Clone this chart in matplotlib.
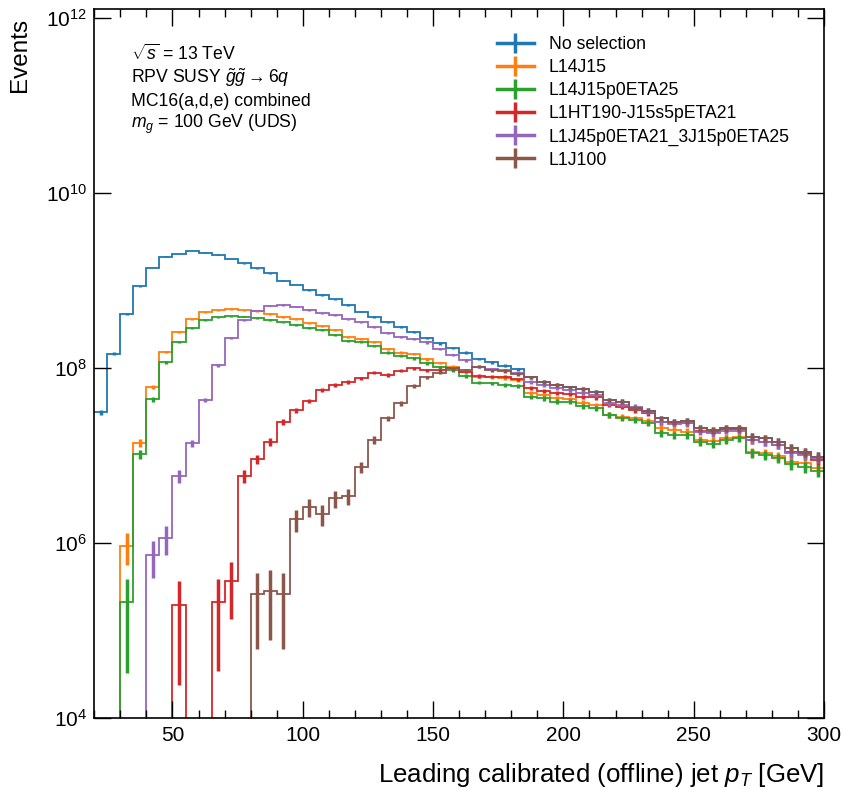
"""
Leading jet pT for the RPV SUSY gluino sample (m_g = 100 GeV, UDS),
with and without the L1 trigger selections. Writes out.png.
"""
import numpy as np
import matplotlib
matplotlib.use("Agg")
import matplotlib.pyplot as plt
from matplotlib.lines import Line2D
from matplotlib.ticker import FixedLocator, MultipleLocator, NullLocator

# 5 GeV bins from 20 to 300 GeV
BIN_EDGES = np.arange(20, 301, 5)

LABELS = [
    "No selection",
    "L14J15",
    "L14J15p0ETA25",
    "L1HT190-J15s5pETA21",
    "L1J45p0ETA21_3J15p0ETA25",
    "L1J100",
]
COLORS = ["#1f77b4", "#ff7f0e", "#2ca02c", "#d62728", "#9467bd", "#8c564b"]

no_selection = [
    3.12e7, 1.46e8, 4.14e8, 8.65e8, 1.39e9, 1.87e9, 2.01e9, 2.17e9, 2.08e9, 1.97e9,
    1.76e9, 1.57e9, 1.38e9, 1.21e9, 1.00e9, 8.89e8, 7.79e8, 6.83e8, 6.10e8, 5.25e8,
    4.40e8, 3.85e8, 3.33e8, 2.92e8, 2.56e8, 2.18e8, 1.91e8, 1.71e8, 1.50e8, 1.27e8,
    1.16e8, 1.06e8, 9.67e7, 7.83e7, 6.97e7, 6.39e7, 6.01e7, 5.71e7, 5.36e7, 4.31e7,
    4.12e7, 3.46e7, 3.25e7, 2.66e7, 2.43e7, 2.50e7, 2.05e7, 1.95e7, 2.05e7, 2.05e7,
    1.64e7, 1.57e7, 1.44e7, 1.21e7, 1.10e7, 9.70e6,
]
l1_4j15 = [
    0, 0, 9.31e5, 1.40e7, 6.11e7, 1.52e8, 2.56e8, 3.60e8, 4.33e8, 4.56e8,
    4.69e8, 4.56e8, 4.46e8, 4.14e8, 3.85e8, 3.60e8, 3.24e8, 3.02e8, 2.72e8, 2.24e8,
    2.13e8, 2.00e8, 1.64e8, 1.50e8, 1.45e8, 1.26e8, 1.14e8, 1.04e8, 9.08e7, 7.96e7,
    7.83e7, 7.62e7, 7.29e7, 5.22e7, 4.91e7, 4.51e7, 4.39e7, 4.01e7, 3.78e7, 2.90e7,
    2.77e7, 2.66e7, 2.50e7, 2.05e7, 1.95e7, 1.87e7, 1.50e7, 1.47e7, 1.60e7, 1.64e7,
    1.10e7, 1.06e7, 9.86e6, 8.49e6, 8.15e6, 7.14e6,
]
l1_4j15_eta25 = [
    0, 0, 2.10e5, 1.04e7, 4.39e7, 1.16e8, 1.98e8, 2.84e8, 3.54e8, 3.80e8,
    3.90e8, 3.86e8, 3.70e8, 3.54e8, 3.33e8, 3.10e8, 2.84e8, 2.72e8, 2.38e8, 2.05e8,
    1.97e8, 1.78e8, 1.50e8, 1.38e8, 1.29e8, 1.13e8, 1.02e8, 9.48e7, 8.10e7, 6.80e7,
    6.68e7, 6.39e7, 6.23e7, 4.70e7, 4.51e7, 4.12e7, 4.12e7, 3.68e7, 3.46e7, 2.90e7,
    2.66e7, 2.55e7, 2.37e7, 1.79e7, 1.71e7, 1.71e7, 1.44e7, 1.35e7, 1.50e7, 1.57e7,
    1.06e7, 1.01e7, 9.29e6, 7.92e6, 7.45e6, 6.70e6,
]
l1_ht190 = [
    0, 0, 0, 0, 0, 0, 1.95e5, 0, 0, 2.13e5,
    3.71e5, 5.83e6, 9.06e6, 1.44e7, 2.43e7, 3.31e7, 4.23e7, 5.61e7, 6.39e7, 6.97e7,
    7.62e7, 8.83e7, 8.32e7, 9.31e7, 9.93e7, 9.48e7, 9.48e7, 9.93e7, 9.08e7, 8.10e7,
    7.96e7, 7.96e7, 7.43e7, 5.86e7, 5.50e7, 5.14e7, 5.00e7, 4.70e7, 4.62e7, 3.78e7,
    3.61e7, 3.31e7, 3.03e7, 2.43e7, 2.37e7, 2.37e7, 1.92e7, 1.87e7, 1.99e7, 1.99e7,
    1.50e7, 1.44e7, 1.32e7, 1.10e7, 1.04e7, 8.89e6,
]
l1_j45_3j15 = [
    0, 0, 0, 0, 7.29e5, 1.15e6, 5.83e6, 1.38e7, 4.31e7, 1.08e8,
    2.22e8, 3.54e8, 4.54e8, 5.15e8, 5.25e8, 5.02e8, 4.60e8, 4.22e8, 4.03e8, 3.60e8,
    3.33e8, 2.92e8, 2.53e8, 2.28e8, 2.14e8, 1.96e8, 1.65e8, 1.41e8, 1.23e8, 1.03e8,
    9.75e7, 9.48e7, 8.69e7, 6.97e7, 6.39e7, 5.86e7, 5.61e7, 5.14e7, 4.91e7, 3.95e7,
    3.78e7, 3.61e7, 3.17e7, 2.43e7, 2.29e7, 2.33e7, 1.87e7, 1.79e7, 1.92e7, 1.92e7,
    1.50e7, 1.44e7, 1.32e7, 1.06e7, 1.01e7, 9.29e6,
]
l1_j100 = [
    0, 0, 0, 0, 0, 0, 0, 0, 0, 0,
    0, 0, 2.59e5, 2.85e5, 2.59e5, 1.87e6, 2.60e6, 2.14e6, 3.24e6, 3.44e6,
    7.45e6, 1.50e7, 2.66e7, 3.95e7, 6.28e7, 7.83e7, 8.83e7, 9.93e7, 9.48e7, 1.03e8,
    9.48e7, 9.25e7, 8.54e7, 7.83e7, 6.97e7, 6.39e7, 6.01e7, 5.71e7, 5.36e7, 4.31e7,
    4.12e7, 3.46e7, 3.25e7, 2.66e7, 2.43e7, 2.50e7, 2.05e7, 1.95e7, 2.05e7, 2.05e7,
    1.64e7, 1.57e7, 1.44e7, 1.21e7, 1.10e7, 9.70e6,
]
SERIES = [no_selection, l1_4j15, l1_4j15_eta25, l1_ht190, l1_j45_3j15, l1_j100]

# typical MC event weight, used for the sqrt(sumw2) error bars
EVENT_WEIGHT = 1.5e5

plt.rcParams["font.family"] = ["Liberation Sans", "DejaVu Sans"]
plt.rcParams["mathtext.fontset"] = "custom"
plt.rcParams["mathtext.rm"] = "Liberation Sans"
plt.rcParams["mathtext.it"] = "Liberation Sans:italic"
plt.rcParams["mathtext.bf"] = "Liberation Sans:bold"

fig = plt.figure(figsize=(8.42, 7.89), dpi=100)
ax = fig.add_axes([0.112, 0.09, 0.8667, 0.898])

centers = 0.5 * (BIN_EDGES[1:] + BIN_EDGES[:-1])
handles = []
for label, vals, color in zip(LABELS, SERIES, COLORS):
    v = np.array(vals, dtype=float)
    ax.stairs(np.where(v > 0, v, 1e-2), BIN_EDGES, color=color, lw=1.3, baseline=None)
    m = v > 0
    err = np.sqrt(EVENT_WEIGHT * v)
    lo = np.minimum(err, v * 0.9999)
    ax.errorbar(centers[m], v[m], yerr=[lo[m], err[m]], fmt="none",
                ecolor=color, elinewidth=2.5)
    handles.append((Line2D([0], [0], color=color, lw=2.5),
                    Line2D([0], [0], color=color, marker="|", ms=15, mew=2.5, ls="none")))

ax.set_yscale("log")
ax.set_xlim(20, 300)
ax.set_ylim(1e4, 10 ** 12.098)

ax.yaxis.set_major_locator(FixedLocator([1e4, 1e6, 1e8, 1e10, 1e12]))
ax.yaxis.set_minor_locator(NullLocator())
ax.xaxis.set_major_locator(MultipleLocator(50))
ax.xaxis.set_minor_locator(MultipleLocator(10))
ax.tick_params(which="both", direction="in", top=True, right=True, labelsize=15)
ax.tick_params(which="major", length=12, width=1)
ax.tick_params(which="minor", length=6, width=1)
ax.tick_params(axis="x", pad=6)
ax.tick_params(axis="y", pad=5)
for s in ax.spines.values():
    s.set_linewidth(1.2)

ax.set_xlabel("Leading calibrated (offline) jet $p_T$ [GeV]", fontsize=18.6, loc="right")
ax.set_ylabel("Events", fontsize=17.5, loc="top")
ax.xaxis.set_label_coords(1.0, -0.06)
ax.yaxis.set_label_coords(-0.087, 0.988)

info = [
    r"$\sqrt{s}$ = 13 TeV",
    r"RPV SUSY $\tilde{g}\tilde{g} \rightarrow 6q$",
    "MC16(a,d,e) combined",
    r"$m_{g}$ = 100 GeV (UDS)",
]
for txt, yb in zip(info, [0.9286, 0.8957, 0.8637, 0.8322]):
    ax.text(0.0503, yb, txt, transform=ax.transAxes, fontsize=12.7, va="baseline", ha="left")

ax.legend(handles, LABELS, loc="upper left", bbox_to_anchor=(0.5515, 0.9625),
          frameon=False, fontsize=12.7, borderpad=0, borderaxespad=0,
          handlelength=2.1, handletextpad=0.85, labelspacing=0.345)

fig.savefig("out.png", dpi=100)
